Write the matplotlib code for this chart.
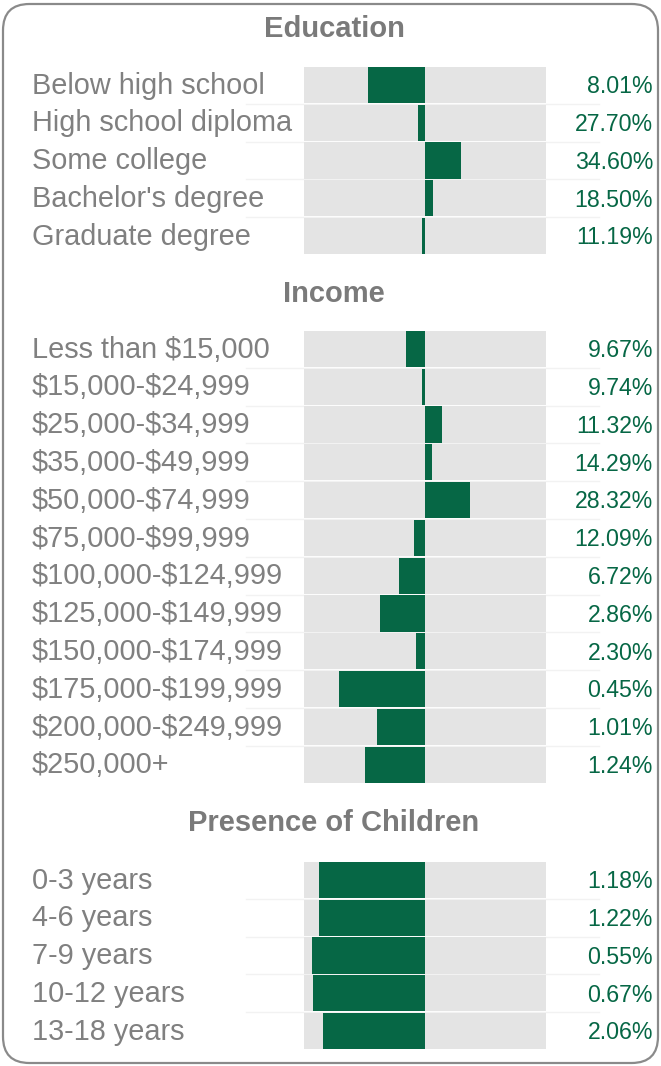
import matplotlib.pyplot as plt
from matplotlib.patches import FancyBboxPatch

plt.rcParams["font.family"] = ["Liberation Sans", "DejaVu Sans"]
plt.rcParams["text.parse_math"] = False

# Education
edu_labels = ["Below high school", "High school diploma", "Some college",
              "Bachelor's degree", "Graduate degree"]
edu_pct = ["8.01%", "27.70%", "34.60%", "18.50%", "11.19%"]
edu_index = [-47, -6, 30, 7, -2.5]

# Income
inc_labels = ["Less than $15,000", "$15,000-$24,999", "$25,000-$34,999",
              "$35,000-$49,999", "$50,000-$74,999", "$75,000-$99,999",
              "$100,000-$124,999", "$125,000-$149,999", "$150,000-$174,999",
              "$175,000-$199,999", "$200,000-$249,999", "$250,000+"]
inc_pct = ["9.67%", "9.74%", "11.32%", "14.29%", "28.32%", "12.09%",
           "6.72%", "2.86%", "2.30%", "0.45%", "1.01%", "1.24%"]
inc_index = [-16, -2.5, 14, 5.5, 37, -9, -21.5, -37, -7.5, -71, -40, -50]

# Presence of children
kid_labels = ["0-3 years", "4-6 years", "7-9 years", "10-12 years", "13-18 years"]
kid_pct = ["1.18%", "1.22%", "0.55%", "0.67%", "2.06%"]
kid_index = [-88, -88, -93, -92.5, -84]

GREEN = "#066745"
CELL = "#e4e4e4"
LABEL = "#808080"
TITLE = "#7a7a7a"

W, H = 661, 1066
fig = plt.figure(figsize=(W / 100, H / 100), dpi=100)

# rounded card border
card = FancyBboxPatch((3 / W, 3 / H), 655 / W, 1059 / H,
                      boxstyle="round,pad=0,rounding_size=0.04",
                      transform=fig.transFigure, facecolor="none",
                      edgecolor="#8a8a8a", linewidth=1.6,
                      mutation_aspect=W / H)
fig.patches.append(card)

x0, x1 = 304, 546


def section(title, title_y, top, labels, pct, values):
    n = len(labels)
    bottom = top + 37.8 * n
    ax = fig.add_axes([x0 / W, 1 - bottom / H, (x1 - x0) / W, (bottom - top) / H])
    ax.set_xlim(-100, 100)
    ax.set_ylim(n - 0.5, -0.5)
    ax.axis("off")
    ys = list(range(n))
    ax.barh(ys, [200] * n, left=-100, height=0.96, color=CELL)
    ax.barh(ys, values, height=0.96, color=GREEN)
    for y in ys[:-1]:
        ax.plot([-0.24, 1.22], [y + 0.5, y + 0.5], color="#f2f2f2", lw=1,
                transform=ax.get_yaxis_transform(), clip_on=False, zorder=0)
    lab_x = (32 - x0) / (x1 - x0)
    pct_x = (653 - x0) / (x1 - x0)
    for y, lab, p in zip(ys, labels, pct):
        ax.text(lab_x, y + 0.23, lab, transform=ax.get_yaxis_transform(),
                ha="left", va="baseline", fontsize=20.8, color=LABEL)
        ax.text(pct_x, y + 0.22, p, transform=ax.get_yaxis_transform(),
                ha="right", va="baseline", fontsize=16.7, color=GREEN)
    fig.text(334 / W, 1 - title_y / H, title, ha="center", va="center",
             fontsize=21, fontweight="bold", color=TITLE)


section("Education", 29, 66, edu_labels, edu_pct, edu_index)
section("Income", 294, 330, inc_labels, inc_pct, inc_index)
section("Presence of Children", 823, 861, kid_labels, kid_pct, kid_index)

fig.savefig("out.png", dpi=100)
